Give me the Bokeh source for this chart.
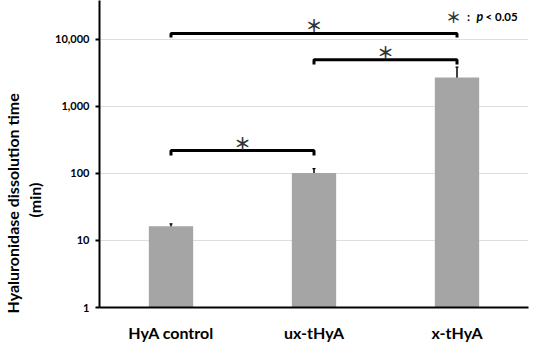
import numpy as np
from bokeh.plotting import figure
from bokeh.models import (FactorRange, FixedTicker, NumeralTickFormatter, Label,
                          ColumnDataSource, Whisker, Title)
from bokeh.core.properties import value
from bokeh.embed import file_html
from bokeh.resources import INLINE

categories = ["HyA control", "ux-tHyA", "x-tHyA"]
means = [16.3, 102, 2700]
err_low = [15.0, 90, 1690]
err_high = [17.7, 118, 3860]
y_ticks = [1, 10, 100, 1000, 10000]

# significance comparisons: (left category, right category, bracket height, tick bottom)
cmp_left = ["HyA control", "ux-tHyA", "HyA control"]
cmp_right = ["x-tHyA", "x-tHyA", "ux-tHyA"]
cmp_height = [12300, 4980, 220]
cmp_drop = [10700, 4240, 186]
cmp_star_mid = [1.5, 2.0, 1.0]

FONT = "Lato"

p = figure(width=534, height=346, output_backend="svg", toolbar_location=None,
           x_range=FactorRange(*categories, range_padding=0),
           y_axis_type="log", y_range=(1, 38200),
           min_border_left=97, min_border_right=6, min_border_top=0,
           min_border_bottom=39)
p.outline_line_color = None
p.background_fill_color = "white"

src = ColumnDataSource(dict(x=categories, top=means, lo=err_low, hi=err_high))
p.vbar(x="x", top="top", bottom=1, width=0.31, source=src,
       fill_color="#a5a5a5", line_color=None)
w = Whisker(base="x", lower="lo", upper="hi", source=src, line_color="black",
            line_width=1.5)
w.upper_head.size = 3
w.lower_head.size = 3
w.upper_head.line_width = 1.2
w.lower_head.line_width = 1.2
p.add_layout(w)

# brackets
xs = [[a, a, b, b] for a, b in zip(cmp_left, cmp_right)]
ys = [[d, h, h, d] for h, d in zip(cmp_height, cmp_drop)]
p.multi_line(xs=xs, ys=ys, line_color="black", line_width=3)
p.text(x=cmp_star_mid, y=cmp_height, text=["＊"] * 3,
       text_font=value("Noto Sans CJK JP"), text_font_size="17px",
       text_font_style="bold",
       text_align="center", text_baseline="bottom", y_offset=4,
       text_color="#333333")

# axes
p.xaxis.axis_line_width = 2
p.xaxis.axis_line_color = "black"
p.xaxis.major_tick_line_color = None
p.xaxis.minor_tick_line_color = None
p.xaxis.major_label_text_font = FONT
p.xaxis.major_label_text_font_style = "bold"
p.xaxis.major_label_text_font_size = "16px"
p.xaxis.major_label_text_color = "black"
p.xaxis.major_label_standoff = 9

p.yaxis.ticker = FixedTicker(ticks=y_ticks, minor_ticks=[])
p.yaxis.formatter = NumeralTickFormatter(format="0,0")
p.yaxis.axis_line_width = 2
p.yaxis.axis_line_color = "black"
p.yaxis.major_tick_in = 0
p.yaxis.major_tick_out = 4
p.yaxis.major_tick_line_width = 2
p.yaxis.major_tick_line_color = "black"
p.yaxis.minor_tick_line_color = None
p.yaxis.major_label_text_font = FONT
p.yaxis.major_label_text_font_style = "bold"
p.yaxis.major_label_text_font_size = "11px"
p.yaxis.major_label_text_color = "black"
p.yaxis.major_label_standoff = 6
p.yaxis.axis_label = " "
p.yaxis.axis_label_text_font_size = "1px"
p.yaxis.axis_label_standoff = 2

p.xgrid.grid_line_color = None
p.ygrid.ticker = FixedTicker(ticks=y_ticks, minor_ticks=[])
p.ygrid.grid_line_color = "#dedede"
p.ygrid.grid_line_width = 1

# y axis title (two lines) as side titles
for txt, off, so in [("(min)", 90, 3), ("Hyaluronidase  dissolution time", -6, 0)]:
    p.add_layout(Title(text=txt, align="left", offset=off, standoff=so,
                       text_font=FONT, text_font_style="bold", text_font_size="16px",
                       text_color="black"), "left")

# significance legend
p.add_layout(Label(x=354, y=291, x_units="screen", y_units="screen", text="＊",
                   text_align="center", text_baseline="middle",
                   text_font="Noto Sans CJK JP", text_font_style="bold",
                   text_font_size="15px", text_color="#333333"))
p.add_layout(Label(x=369, y=291, x_units="screen", y_units="screen", text=":",
                   text_align="center", text_baseline="middle",
                   text_font=FONT, text_font_style="bold", text_font_size="12px", text_color="black"))
p.add_layout(Label(x=377, y=291, x_units="screen", y_units="screen", text="p",
                   text_align="left", text_baseline="middle",
                   text_font=FONT, text_font_style="bold italic", text_font_size="12.5px", text_color="black"))
p.add_layout(Label(x=386, y=291, x_units="screen", y_units="screen", text="< 0.05",
                   text_align="left", text_baseline="middle",
                   text_font=FONT, text_font_style="bold", text_font_size="11.5px", text_color="black"))

open("out.html", "w").write(file_html(p, INLINE))
